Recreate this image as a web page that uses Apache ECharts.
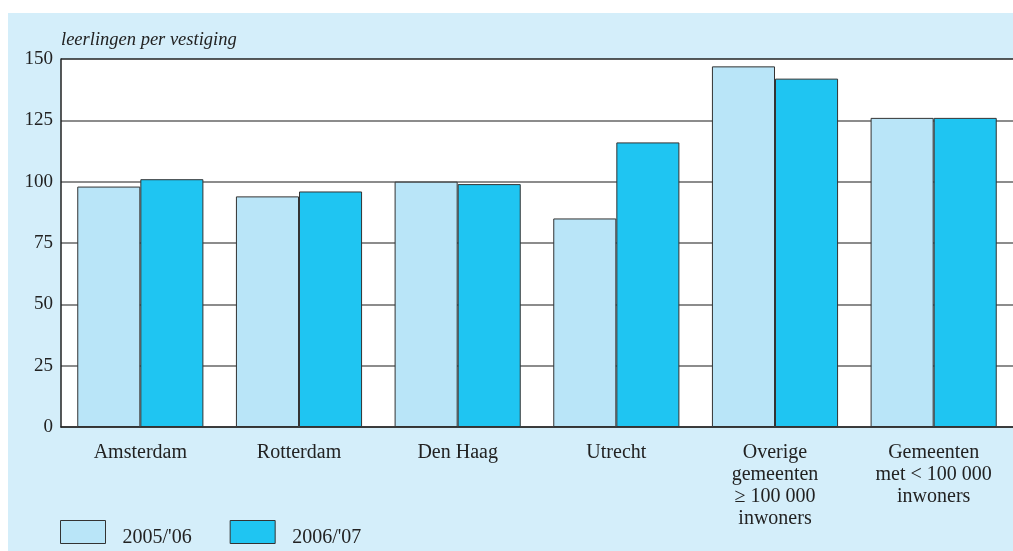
<!DOCTYPE html>
<html>
<head>
<meta charset="utf-8">
<script src="https://cdn.jsdelivr.net/npm/echarts@6/dist/echarts.min.js"></script>
<style>
html,body{margin:0;padding:0;background:#ffffff;}
#chart{width:1013px;height:551px;}
</style>
</head>
<body>
<div id="chart"></div>
<script>
const categories = ['Amsterdam', 'Rotterdam', 'Den Haag', 'Utrecht', 'Overige\ngemeenten\n≥ 100 000\ninwoners', 'Gemeenten\nmet < 100 000\ninwoners'];
const series2005 = [98, 94, 100, 85, 147, 126];
const series2006 = [101, 96, 99, 116, 142, 126];
const seriesNames = ["2005/'06", "2006/'07"];
const yTicks = [0, 25, 50, 75, 100, 125, 150];
const yTitle = 'leerlingen per vestiging';

const font = 'Liberation Serif, DejaVu Serif, serif';
const chart = echarts.init(document.getElementById('chart'), null, {renderer: 'canvas'});
chart.setOption({
  animation: false,
  graphic: [
    {type: 'rect', left: 8, top: 13, shape: {width: 1005, height: 538}, style: {fill: '#D4EEFA'}, z: -10, silent: true},
    {type: 'text', left: 61, top: 31, style: {text: yTitle, font: 'italic 18.5px ' + font, fill: '#222'}, z: 10}
  ],
  grid: {left: 61, top: 59, width: 954, height: 368, show: true, backgroundColor: '#ffffff', borderWidth: 0},
  legend: {
    left: 55, top: 515, itemWidth: 45, itemHeight: 23, itemGap: 38,
    icon: 'rect',
    itemStyle: {borderWidth: 1, borderColor: '#333'},
    formatter: function (name) { return '{a|' + name + '}'; },
    textStyle: {
      fontFamily: font, fontSize: 20, color: '#222',
      rich: {a: {fontFamily: font, fontSize: 20, color: '#222', padding: [12, 0, 0, 12]}}
    },
    data: seriesNames
  },
  xAxis: {
    type: 'category', data: categories,
    axisLine: {show: true, lineStyle: {color: '#222', width: 1.5}},
    axisTick: {show: false},
    axisLabel: {fontFamily: font, fontSize: 20, color: '#222', lineHeight: 22, margin: 15, interval: 0}
  },
  yAxis: {
    type: 'value', min: yTicks[0], max: yTicks[yTicks.length - 1], interval: 25,
    axisLine: {show: true, lineStyle: {color: '#222', width: 1.5}},
    axisTick: {show: false},
    axisLabel: {fontFamily: font, fontSize: 19, color: '#222', margin: 8},
    splitLine: {show: true, lineStyle: {color: ['#666', '#666', '#666', '#666', '#666', '#666', '#222'], width: 1.5}}
  },
  series: [
    {name: seriesNames[0], type: 'bar', data: series2005, barGap: '0%', barCategoryGap: '20.5%',
     itemStyle: {color: '#B9E5F8', borderColor: '#333', borderWidth: 1}},
    {name: seriesNames[1], type: 'bar', data: series2006, barGap: '0%', barCategoryGap: '20.5%',
     itemStyle: {color: '#1FC5F2', borderColor: '#333', borderWidth: 1}}
  ]
});
</script>
</body>
</html>
